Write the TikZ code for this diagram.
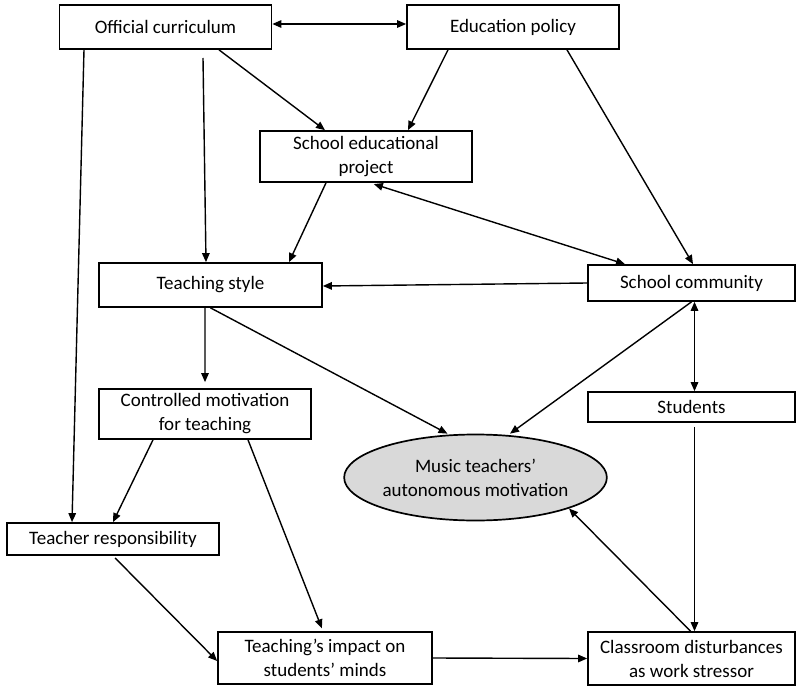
\documentclass[tikz,border=0pt]{standalone}
\usepackage{fontspec}
\setmainfont{Carlito}
\usetikzlibrary{arrows.meta, shapes.geometric}
\definecolor{ellipseGray}{RGB}{217,217,217}
\tikzstyle{linkArrow} = [line width=1.4bp, -{Triangle[length=9bp,width=7.5bp]}]
\tikzstyle{bothArrow} = [line width=1.4bp, {Triangle[length=9bp,width=7.5bp]}-{Triangle[length=9bp,width=7.5bp]}]
\tikzstyle{factorBox} = [draw, rectangle, align=center, inner sep=0pt]

\begin{document}
\begin{tikzpicture}[
  x=1bp, y=-1bp,
  line width=1.7bp,
  font=\fontsize{19bp}{24bp}\selectfont,
  minimum width=212bp,
  minimum height=44bp,
  ]
  \useasboundingbox (0,0) rectangle (796,688);
  \node[factorBox] (offcur) at (165.5,27) {Official curriculum};
  \node[factorBox] (edpol) at (513,27) {Education policy};
  \node[factorBox,minimum height=51bp] (sep) at (366,156.5) {School educational\\project};
  \node[factorBox,minimum width=223bp] (tstyle) at (210.5,285) {Teaching style};
  \node[factorBox,minimum width=207bp,minimum height=36bp] (scom) at (691.5,283) {School community};
  \node[factorBox,minimum width=207bp,minimum height=30bp] (stud) at (691.5,407) {Students};
  \node[factorBox,minimum height=50bp] (cmot) at (205,414) {Controlled motivation\\for teaching};
  \node[draw,ellipse,fill=ellipseGray,align=center,inner sep=0pt,
    minimum width=215bp,minimum height=86bp] (mtam) at (475.5,477.5)
    {Music teachers’\\autonomous motivation};
  \node[factorBox,minimum height=32bp] (tresp) at (113,539) {Teacher responsibility};
  \node[factorBox,minimum width=214bp,minimum height=52bp] (timp) at (325,658) {Teaching’s impact on\\students’ minds};
  \node[factorBox,minimum width=207bp,minimum height=53bp] (cdist) at (691.5,658.5) {Classroom disturbances\\as work stressor};
  \coordinate (ocgap) at (203,58);
  \draw[bothArrow] ([yshift=3bp]offcur.east) to ([yshift=3bp]edpol.west);
  \draw[linkArrow] ([xshift=-81.5bp]offcur.south) to ([xshift=-41bp]tresp.north);
  \draw[linkArrow] (ocgap) to ([xshift=-4.5bp]tstyle.north);
  \draw[linkArrow] ([xshift=53.5bp]offcur.south) to ([xshift=-41bp]sep.north);
  \draw[linkArrow] ([xshift=-65bp]edpol.south) to ([xshift=42bp]sep.north);
  \draw[linkArrow] ([xshift=54bp]edpol.south) to ([xshift=1.5bp]scom.north);
  \draw[bothArrow,shorten <=4bp] ([xshift=4bp]sep.south) to ([xshift=-66.5bp]scom.north);
  \draw[linkArrow] ([xshift=-40bp]sep.south) to ([xshift=78.5bp]tstyle.north);
  \draw[linkArrow] (scom.west) to ([yshift=-1bp]tstyle.east);
  \draw[linkArrow,shorten >=6bp] ([xshift=-5.5bp]tstyle.south) to (cmot.north);
  \draw[linkArrow] (tstyle.south) to ([xshift=-28bp]mtam.north);
  \draw[linkArrow] (scom.south) to ([xshift=34.5bp]mtam.north);
  \draw[bothArrow] ([xshift=3bp]scom.south) to ([xshift=3bp]stud.north);
  \draw[linkArrow] ([xshift=-52bp]cmot.south) to (tresp.north);
  \draw[linkArrow,shorten >=3bp] ([xshift=43bp]cmot.south) to ([xshift=-2bp]timp.north);
  \draw[linkArrow,shorten <=3bp] (tresp.south) to ([yshift=-3bp]timp.west);
  \draw[linkArrow] (timp.east) to (cdist.west);
  \draw[linkArrow,shorten <=4bp] ([xshift=3bp]stud.south) to ([xshift=3bp]cdist.north);
  \draw[linkArrow] ([xshift=-1bp]cdist.north) to (mtam.south east);
\end{tikzpicture}
\end{document}
